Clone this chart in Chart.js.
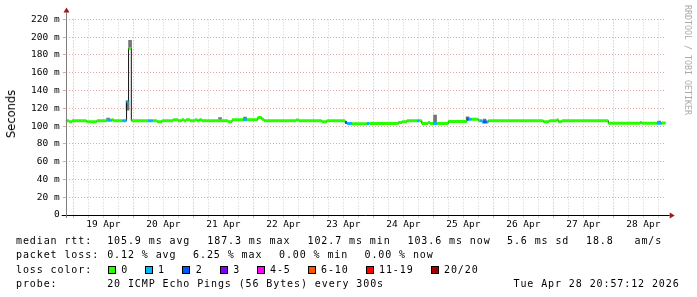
<!DOCTYPE html>
<html>
<head>
<meta charset="utf-8">
<script src="https://cdn.jsdelivr.net/npm/chart.js@4.4.1/dist/chart.umd.min.js"></script>
<style>
    html, body { margin: 0; padding: 0; background: #fff; }
    #wrap { position: relative; width: 697px; height: 297px; overflow: hidden; background: #fff; }
    #graph { position: absolute; left: 0; top: 0; }
    .t { position: absolute; font-family: 'DejaVu Sans Mono', monospace; font-size: 10px; line-height: 12px; letter-spacing: 0.9px; color: #000; white-space: pre; }
    .box { position: absolute; width: 6px; height: 6px; border: 1px solid #000; top: 266px; }
    #ytitle { position: absolute; left: 10.5px; top: 114px; transform: translate(-50%, -50%) rotate(-90deg); font-family: 'DejaVu Sans', sans-serif; font-size: 11.5px; white-space: nowrap; color: #000; }
    #mark { position: absolute; left: 684px; top: 5px; writing-mode: vertical-rl; font-family: 'DejaVu Sans Mono', monospace; font-size: 8.3px; line-height: 8px; color: #aaa; white-space: nowrap; }
</style>
</head>
<body>
<div id="wrap">
    <canvas id="graph" width="697" height="297"></canvas>
    <div id="ytitle">Seconds</div>
    <div id="mark">RRDTOOL / TOBI OETIKER</div>
    <div id="legend"></div>
</div>
<script>
// x axis is hours since 18 Apr 00:00, 10 days ending 28 Apr 20:57
const startHour = 20.95;
const endHour = 260.95;
const firstDay = 18;
const monthName = 'Apr';

// median rtt as steps: start hour, value (ms), lost pings out of 20
const stepHours = [20.95, 22.3, 23.5, 29.3, 33.4, 37.4, 39.4, 40.1, 43.6, 45.3,
    46.1, 47.2, 53.9, 55.8, 57.5, 59.4, 63.9, 65.9, 67.4, 68.3,
    69.1, 70.7, 72.7, 73.6, 74.4, 75.4, 85.9, 87.5, 91.9, 93.4,
    97.8, 99.4, 100.3, 113.1, 114.3, 123.4, 125.4, 132.7, 133.5, 135.4,
    141.4, 142.4, 154.0, 155.5, 157.4, 161.5, 162.3, 163.4, 165.9, 166.7,
    168.0, 169.4, 174.0, 181.4, 182.2, 183.4, 186.0, 186.7, 187.5, 187.9,
    189.4, 190.0, 212.0, 214.4, 217.4, 218.0, 219.4, 238.0, 250.7, 251.4,
    257.4, 259.4];
const medianMs = [106.1, 105.0, 106.1, 105.0, 106.1, 106.6, 107.1, 106.1, 106.1, 127.5,
    187.3, 106.1, 106.1, 106.1, 105.0, 106.1, 107.1, 106.1, 107.1, 106.1,
    107.1, 106.1, 107.1, 106.1, 107.1, 106.1, 105.0, 107.1, 107.1, 107.1,
    109.6, 107.6, 106.1, 106.8, 106.1, 105.0, 106.1, 103.9, 103.0, 102.7,
    103.0, 103.0, 103.9, 105.0, 106.1, 106.1, 106.1, 103.0, 103.9, 103.0,
    103.0, 103.0, 105.3, 107.8, 107.8, 107.8, 106.1, 106.1, 104.6, 104.6,
    104.6, 106.1, 105.0, 106.1, 107.1, 105.0, 106.1, 103.2, 104.1, 103.2,
    103.2, 103.6];
const lossCount = [0, 0, 0, 0, 0, 1, 0, 0, 1, 1,
    0, 0, 1, 0, 0, 0, 0, 0, 0, 0,
    0, 0, 0, 0, 0, 0, 0, 0, 1, 0,
    0, 0, 0, 0, 0, 0, 0, 2, 1, 0,
    1, 0, 0, 0, 0, 1, 0, 0, 0, 0,
    1, 0, 0, 2, 1, 0, 0, 1, 1, 2,
    1, 0, 0, 0, 0, 0, 0, 0, 0, 0,
    1, 0];

// smoke (spread of the pings) where it shows beside the median line
const smokeHours = [37.9, 45.7, 46.7, 82.7, 92.7, 168.7, 181.7, 188.5, 258.3];
const smokeLow = [106.5, 118.0, 187.3, 107.5, 107.5, 104.0, 108.0, 105.0, 104.0];
const smokeHigh = [109.0, 128.5, 196.5, 109.5, 110.0, 112.5, 110.5, 107.8, 105.5];

// legend
const lossLabels = ['0', '1', '2', '3', '4-5', '6-10', '11-19', '20/20'];
const lossColors = ['#26ff00', '#00b8ff', '#0059ff', '#7e00ff', '#ff00ff', '#ff5500', '#ff0000', '#a10000'];

function lossColor(n) {
    if (n <= 3) return lossColors[n];
    if (n <= 5) return lossColors[4];
    if (n <= 10) return lossColors[5];
    if (n <= 19) return lossColors[6];
    return lossColors[7];
}

// legend text below the graph
const legendRows = [
    [234.5, [[16, 'median rtt:'], [107.2, '105.9 ms avg'], [207.3, '187.3 ms max'], [307.5, '102.7 ms min'], [407.5, '103.6 ms now'], [507, '5.6 ms sd'], [586, '18.8'], [634.5, 'am/s']]],
    [249, [[16, 'packet loss:'], [107.2, '0.12 % avg'], [193.1, '6.25 % max'], [279, '0.00 % min'], [364.5, '0.00 % now']]],
    [263.5, [[16, 'loss color:']]],
    [278, [[16, 'probe:'], [107.2, '20 ICMP Echo Pings (56 Bytes) every 300s'], [513.5, 'Tue Apr 28 20:57:12 2026']]]
];
const boxLeft = [107.7, 144.5, 182.3, 219.8, 256.5, 307.5, 365.5, 430.5];

const legend = document.getElementById('legend');
legendRows.forEach(([top, items]) => {
    items.forEach(([left, text]) => {
        const s = document.createElement('div');
        s.className = 't';
        s.style.left = left + 'px';
        s.style.top = top + 'px';
        s.textContent = text;
        legend.appendChild(s);
    });
});
lossLabels.forEach((label, i) => {
    const b = document.createElement('div');
    b.className = 'box';
    b.style.left = boxLeft[i] + 'px';
    b.style.background = lossColors[i];
    legend.appendChild(b);
    const s = document.createElement('div');
    s.className = 't';
    s.style.left = (boxLeft[i] + 13.5) + 'px';
    s.style.top = '263.5px';
    s.textContent = label;
    legend.appendChild(s);
});

// thin dark step line (shows the vertical jumps)
const medianSteps = stepHours.map((h, i) => ({ x: h, y: medianMs[i] }));
medianSteps.push({ x: endHour, y: medianMs[medianMs.length - 1] });

// thick horizontal pieces coloured by loss
const colouredSteps = [];
stepHours.forEach((h, i) => {
    const next = i + 1 < stepHours.length ? stepHours[i + 1] : endHour;
    colouredSteps.push({ x: h, y: medianMs[i] }, { x: next, y: medianMs[i] }, { x: next, y: null });
});

const smokeBars = smokeHours.map((h, i) => ({ x: h, y: [smokeLow[i], smokeHigh[i]] }));

// grid every 6 hours, labels at noon
const gridHours = [];
for (let h = Math.ceil(startHour / 6) * 6; h < endHour; h += 6) gridHours.push(h);

const majorGrid = '#e6a6a6';
const minorGrid = '#cfcfcf';
const tickFont = { family: 'DejaVu Sans Mono', size: 9.5 };

const axisArrows = {
    id: 'axisArrows',
    afterDraw(chart) {
        const { ctx, chartArea: a } = chart;
        const x0 = Math.round(a.left) + 0.5;
        const y0 = Math.round(a.bottom) + 0.5;
        ctx.save();
        ctx.lineWidth = 1;
        ctx.strokeStyle = '#000';
        ctx.beginPath();
        ctx.moveTo(a.left - 4, y0);
        ctx.lineTo(a.right + 4, y0);
        ctx.stroke();
        ctx.strokeStyle = '#808080';
        ctx.beginPath();
        ctx.moveTo(x0, a.bottom + 3);
        ctx.lineTo(x0, a.top - 7);
        ctx.stroke();
        ctx.fillStyle = '#a01818';
        ctx.beginPath();
        ctx.moveTo(a.right + 4, y0 - 3);
        ctx.lineTo(a.right + 9, y0);
        ctx.lineTo(a.right + 4, y0 + 3);
        ctx.fill();
        ctx.beginPath();
        ctx.moveTo(x0 - 3, a.top - 7);
        ctx.lineTo(x0, a.top - 12);
        ctx.lineTo(x0 + 3, a.top - 7);
        ctx.fill();
        ctx.restore();
    }
};

new Chart(document.getElementById('graph'), {
    type: 'line',
    data: {
        datasets: [
            {
                type: 'bar',
                data: smokeBars,
                backgroundColor: '#767676',
                barThickness: 3,
                grouped: false,
                order: 3
            },
            {
                data: medianSteps,
                stepped: true,
                borderColor: '#111',
                borderWidth: 1,
                pointRadius: 0,
                order: 2
            },
            {
                data: colouredSteps,
                borderWidth: 3,
                borderCapStyle: 'butt',
                pointRadius: 0,
                spanGaps: false,
                segment: {
                    borderColor: ctx => lossColor(lossCount[Math.floor(ctx.p0DataIndex / 3)])
                },
                order: 1
            }
        ]
    },
    options: {
        responsive: false,
        animation: false,
        layout: { padding: { left: 0, right: 31.3, top: 19.4, bottom: 62 } },
        plugins: { legend: { display: false }, tooltip: { enabled: false } },
        scales: {
            x: {
                type: 'linear',
                min: startHour,
                max: endHour,
                offset: false,
                afterBuildTicks: s => { s.ticks = gridHours.map(v => ({ value: v })); },
                afterFit: s => { s.height = 20; },
                ticks: {
                    autoSkip: false,
                    maxRotation: 0,
                    padding: 1,
                    color: '#000',
                    font: tickFont,
                    callback: v => (v % 24 === 12) ? (firstDay + Math.floor(v / 24)) + ' ' + monthName : ''
                },
                grid: {
                    offset: false,
                    tickLength: 3,
                    color: c => (c.tick && c.tick.value % 24 === 0) ? majorGrid : minorGrid
                },
                border: { display: false, dash: [1, 2] }
            },
            y: {
                min: 0,
                max: 220,
                afterFit: s => { s.width = 65.7; },
                ticks: {
                    stepSize: 10,
                    padding: 3,
                    color: '#000',
                    font: tickFont,
                    callback: v => v % 20 !== 0 ? '' : (v === 0 ? '0' : v + ' m')
                },
                grid: {
                    tickLength: 3,
                    color: c => (c.tick && c.tick.value % 20 === 0) ? majorGrid : minorGrid
                },
                border: { display: false, dash: [1, 2] }
            }
        }
    },
    plugins: [axisArrows]
});
</script>
</body>
</html>
